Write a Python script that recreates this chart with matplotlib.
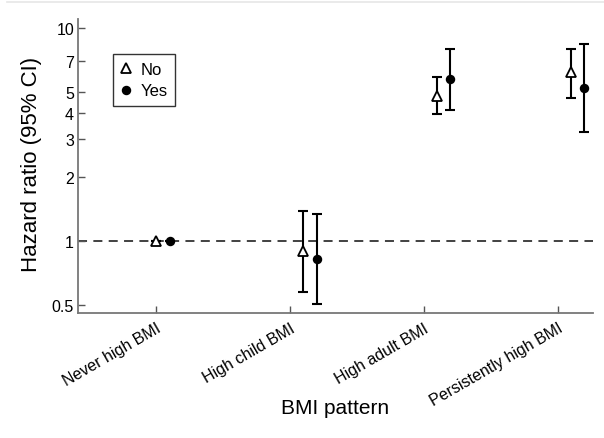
import numpy as np
import matplotlib
matplotlib.use("Agg")
import matplotlib.pyplot as plt
from matplotlib.lines import Line2D
from matplotlib.ticker import FixedLocator, NullLocator

plt.rcParams['font.family'] = ['Liberation Sans', 'DejaVu Sans']

categories = ["Never high BMI", "High child BMI", "High adult BMI", "Persistently high BMI"]

# x positions of each group's estimates
x_no = [1.0, 2.095, 3.10, 4.10]
x_yes = [1.105, 2.20, 3.198, 4.197]

# hazard ratios with 95% CI
hr_no = [1.0, 0.894, 4.80, 6.23]
lo_no = [1.0, 0.573, 3.95, 4.70]
hi_no = [1.0, 1.38, 5.90, 8.0]

hr_yes = [1.0, 0.82, 5.77, 5.23]
lo_yes = [1.0, 0.503, 4.12, 3.25]
hi_yes = [1.0, 1.336, 8.0, 8.43]

yticks = [0.5, 1, 2, 3, 4, 5, 7, 10]
ytick_labels = ["0.5", "1", "2", "3", "4", "5", "7", "10"]

fig = plt.figure(figsize=(6.04, 4.39), dpi=100)
ax = fig.add_axes([0.1296, 0.2847, 0.8527, 0.6697])

ax.axhline(1, color="#333333", lw=1.3, ls=(0, (5, 3.5)), zorder=1)

def draw_group(x, hr, lo, hi, marker, face, size, label):
    hr = np.array(hr)
    err = np.vstack([hr - np.array(lo), np.array(hi) - hr])
    ax.errorbar(x, hr, yerr=err, fmt="none", ecolor="black", elinewidth=1.5,
                capsize=3.5, capthick=1.5, zorder=2)
    ax.plot(x, hr, ls="none", marker=marker, ms=size, mfc=face, mec="black",
            mew=1.3, zorder=3, label=label)

draw_group(x_no, hr_no, lo_no, hi_no, "^", "white", 6.5, "No")
draw_group(x_yes, hr_yes, lo_yes, hi_yes, "o", "black", 5.5, "Yes")

ax.set_yscale("log")
ax.set_ylim(0.457, 11.06)
ax.set_xlim(0.421, 4.266)
ax.yaxis.set_major_locator(FixedLocator(yticks))
ax.yaxis.set_minor_locator(NullLocator())
ax.set_yticklabels(ytick_labels)
ax.set_xticks(range(1, len(categories) + 1))
ax.set_xticklabels(categories, rotation=30, ha="right", rotation_mode="anchor")

for side in ["top", "right"]:
    ax.spines[side].set_visible(False)
for side in ["left", "bottom"]:
    ax.spines[side].set_color("#777777")
    ax.spines[side].set_linewidth(1.3)
ax.tick_params(axis="both", direction="in", length=5, width=1.0, color="#555555",
               labelsize=11.5, colors="black")
ax.tick_params(axis="x", pad=5)
ax.tick_params(axis="y", pad=3)

ax.set_ylabel("Hazard ratio (95% CI)", fontsize=16)
ax.set_xlabel("BMI pattern", fontsize=15)
ax.yaxis.set_label_coords(-0.07, 0.51)
ax.xaxis.set_label_coords(0.498, -0.29)

leg = ax.legend(loc="upper left", bbox_to_anchor=(0.068, 0.88), fontsize=12,
                frameon=True, fancybox=False, handlelength=0.6, handletextpad=0.6,
                borderpad=0.45, labelspacing=0.4, borderaxespad=0)
leg.get_frame().set_edgecolor("black")
leg.get_frame().set_linewidth(1.0)

# faint rule along the top edge
fig.add_artist(Line2D([0.012, 1.0], [0.993, 0.993], color="#e6e6e6", lw=1.2))

fig.savefig("out.png", dpi=100)
